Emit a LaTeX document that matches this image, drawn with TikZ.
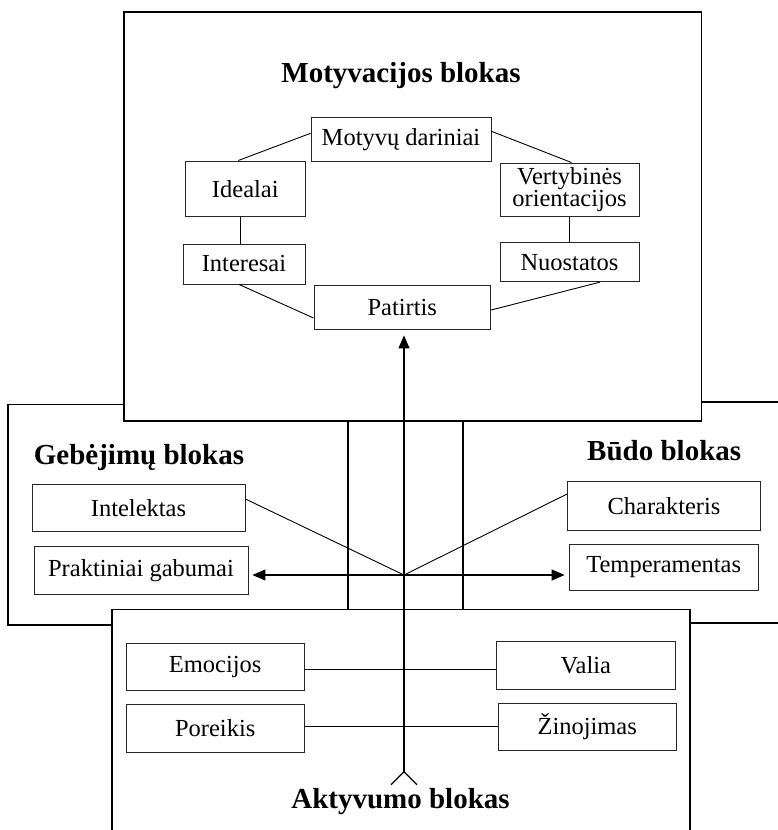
\documentclass[tikz,border=0pt]{standalone}
\usepackage{fontspec}
\setmainfont{Liberation Serif}
\usetikzlibrary{arrows.meta}
\begin{document}
\begin{tikzpicture}[x=1pt,y=-1pt,
  blk/.style={draw=black,line width=1.6pt,fill=white},
  itm/.style={draw=black!85,line width=0.9pt,inner sep=0pt,font=\fontsize{24.5}{20}\selectfont,align=center},
  ttl/.style={font=\fontsize{29}{31}\selectfont\bfseries,anchor=base,inner sep=0pt},
  conn/.style={line width=0.9pt},
  arr/.style={line width=1.1pt,-{Triangle[length=13pt,width=11pt]}}]
\useasboundingbox (0,0) rectangle (778,830);
\clip (0,0) rectangle (778,830);
% outer blocks
\draw[blk] (8,404.5) rectangle (348,625);
\draw[blk] (463,402) rectangle (800,622.7);
\draw[blk] (124,12) rectangle (701.5,420.7);
\draw[blk] (111.7,609.3) rectangle (690,860);
% titles
\node[ttl] (tmot) at (401,82) {Motyvacijos blokas};
\node[ttl] (tgeb) at (139,464) {Gebėjimų blokas};
\node[ttl] (tbud) at (664.2,460.7) {Būdo blokas};
\node[ttl] (takt) at (400.5,808.3) {Aktyvumo blokas};
% motivation items
\node[itm,minimum width=180pt,minimum height=44.5pt] (motyvu) at (401,139.3) {Motyvų dariniai};
\node[itm,minimum width=120.5pt,minimum height=55.7pt] (ideal) at (245.3,188.8) {Idealai};
\node[itm,minimum width=139pt,minimum height=53.7pt] (vertyb) at (569.5,189.8) {Vertybinės\\orientacijos};
\node[itm,minimum width=122pt,minimum height=40pt] (inter) at (244,264) {Interesai};
\node[itm,minimum width=139pt,minimum height=39pt] (nuost) at (569.5,262.2) {Nuostatos};
\node[itm,minimum width=176.7pt,minimum height=43.3pt] (patir) at (402.3,307.3) {Patirtis};
% abilities / character
\node[itm,minimum width=213pt,minimum height=47.7pt] (intel) at (138.5,507.9) {Intelektas};
\node[itm,minimum width=214pt,minimum height=47.6pt] (prakt) at (141,570.5) {Praktiniai gabumai};
\node[itm,minimum width=193.4pt,minimum height=48.3pt] (charak) at (664,505.9) {Charakteris};
\node[itm,minimum width=189.3pt,minimum height=45.7pt] (temper) at (663.7,567.2) {Temperamentas};
% activity
\node[itm,minimum width=178.3pt,minimum height=47.4pt] (emoc) at (215.2,667) {Emocijos};
\node[itm,minimum width=178.3pt,minimum height=48pt] (poreik) at (215.2,728.3) {Poreikis};
\node[itm,minimum width=178.3pt,minimum height=47.6pt] (valia) at (585.9,665.5) {Valia};
\node[itm,minimum width=177.7pt,minimum height=47.4pt] (zinoj) at (587.2,727) {Žinojimas};
% motivation ring
\draw[conn] ([xshift=-7pt]ideal.north) -- ([yshift=6pt]motyvu.west);
\draw[conn] ([yshift=8pt]motyvu.east) -- ([xshift=2pt]vertyb.north);
\coordinate (i1) at ([xshift=-5pt]ideal.south);
\draw[conn] (i1) -- (i1 |- inter.north);
\draw[conn] (vertyb) -- (nuost);
\draw[conn] ([xshift=-5pt]inter.south) -- ([yshift=-10.7pt]patir.west);
\draw[conn] ([xshift=30.5pt]nuost.south) -- ([yshift=-2.7pt]patir.east);
% activity links
\coordinate (e1) at ([yshift=-2.3pt]emoc.east);
\draw[conn] (e1) -- (e1 -| valia.west);
\coordinate (p1) at ([yshift=2.3pt]poreik.east);
\draw[conn] (p1) -- (p1 -| zinoj.west);
% central arrows
\coordinate (tail) at (404,771.7);
\coordinate (hub) at (404,575);
\draw[conn] ([yshift=8.9pt]intel.east) -- (hub);
\draw[conn] ([yshift=11.8pt]charak.west) -- (hub);
\draw[arr,shorten >=4pt] (hub) -- (hub -| prakt.east);
\draw[arr,shorten >=4pt] (hub) -- (hub -| temper.west);
\draw[arr,shorten >=6pt] (tail) -- (tail |- patir.south);
\draw[line width=1.3pt] ([xshift=-13pt,yshift=-13pt]tail) -- (tail) -- ([xshift=13pt,yshift=-13pt]tail);
\end{tikzpicture}
\end{document}
